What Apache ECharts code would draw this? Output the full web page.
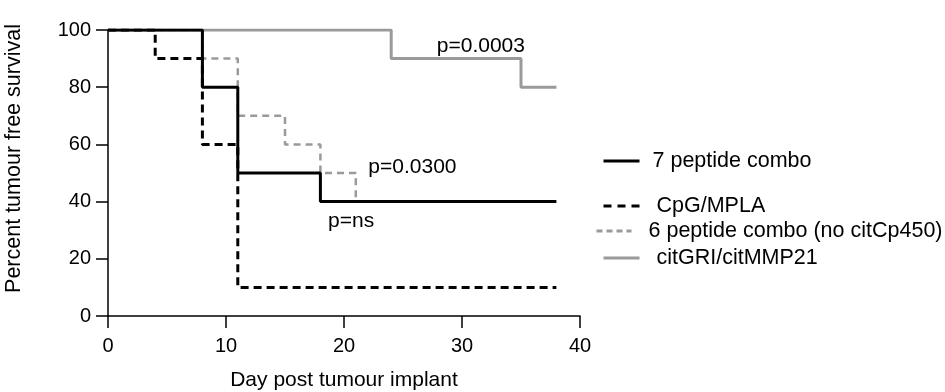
<!DOCTYPE html>
<html lang="en">
<head>
  <meta charset="UTF-8">
  <title>Tumour free survival</title>
</head>
<body style="margin:0; background:#fff;">
<div id="main" style="width:945px; height:392px;"></div>

<script src="https://cdn.jsdelivr.net/npm/echarts@6/dist/echarts.min.js"></script>

<script>
  // Kaplan-Meier steps: [day, percent]
  var sevenPeptide = [[0, 100], [8, 80], [11, 50], [18, 40], [38, 40]];
  var cpgMpla = [[0, 100], [4, 90], [8, 60], [11, 10], [38, 10]];
  var sixPeptide = [[0, 100], [8, 90], [11, 70], [15, 60], [18, 50], [21, 40], [38, 40]];
  var citGri = [[0, 100], [24, 90], [35, 80], [38, 80]];

  var seriesNames = ['7 peptide combo', 'CpG/MPLA', '6 peptide combo (no citCp450)', 'citGRI/citMMP21'];

  // p-value labels: [day, percent, text]
  var pLabels = [[31.6, 94.4, 'p=0.0003'], [25.8, 51.9, 'p=0.0300'], [20.6, 33.1, 'p=ns']];

  var xTicks = [0, 10, 20, 30, 40];
  var yTicks = [0, 20, 40, 60, 80, 100];

  var font = 'Liberation Sans, Arial, sans-serif';
  var chart = echarts.init(document.getElementById('main'));

  // one legend box per series, the original spaces them unevenly
  function legendAt(name, top, left, width, gap, color, dash) {
    return {
      data: [name],
      left: left - 5,
      top: top - 5,
      itemWidth: width,
      itemHeight: 14,
      selectedMode: false,
      itemStyle: { opacity: 0 },
      lineStyle: { color: color, width: 3, type: dash },
      formatter: function (n) { return '{t|' + n + '}'; },
      textStyle: {
        fontFamily: font, fontSize: 21.5, color: '#000',
        rich: { t: { fontFamily: font, fontSize: 21.5, color: '#000', padding: [0, 0, 0, gap] } }
      }
    };
  }

  function stepLine(name, data, color, width, type, z) {
    return {
      name: name,
      type: 'line',
      step: 'end',
      data: data,
      symbol: 'none',
      z: z,
      itemStyle: { color: color },
      lineStyle: { color: color, width: width, type: type },
      emphasis: { disabled: true },
      animation: false
    };
  }

  var option = {
    backgroundColor: '#fff',
    animation: false,
    grid: { left: 108, right: 365, top: 30, bottom: 76, outerBoundsMode: 'none' },
    legend: [
      legendAt(seriesNames[0], 150, 602, 36, 8, '#000', 'solid'),
      legendAt(seriesNames[1], 195, 602, 36, 12, '#000', [8, 6]),
      legendAt(seriesNames[2], 220, 595, 35, 12, '#9a9a9a', [6, 4]),
      legendAt(seriesNames[3], 247, 602, 36, 12, '#9a9a9a', 'solid')
    ],
    xAxis: {
      type: 'value',
      min: 0, max: 40, interval: 10,
      name: 'Day post tumour implant',
      nameLocation: 'middle',
      nameGap: 54,
      nameTextStyle: { fontFamily: font, fontSize: 21, color: '#000' },
      axisLine: { lineStyle: { color: '#000', width: 1.5 } },
      axisTick: { length: 12, lineStyle: { color: '#000', width: 1.5 },
        customValues: xTicks },
      axisLabel: { fontFamily: font, fontSize: 20, color: '#000', margin: 20,
        customValues: xTicks },
      splitLine: { show: false }
    },
    yAxis: {
      type: 'value',
      min: 0, max: 100, interval: 20,
      name: 'Percent tumour free survival',
      nameLocation: 'middle',
      nameGap: 83,
      nameTextStyle: { fontFamily: font, fontSize: 21.5, color: '#000', padding: [0, 0, 0, 29] },
      axisLine: { show: true, lineStyle: { color: '#000', width: 1.5 } },
      axisTick: { show: true, length: 12, lineStyle: { color: '#000', width: 1.5 },
        customValues: yTicks },
      axisLabel: { fontFamily: font, fontSize: 20, color: '#000', margin: 17,
        customValues: yTicks },
      splitLine: { show: false }
    },
    series: [
      stepLine(seriesNames[3], citGri, '#9a9a9a', 3, 'solid', 2),
      stepLine(seriesNames[2], sixPeptide, '#9a9a9a', 2.5, [7, 5], 3),
      stepLine(seriesNames[1], cpgMpla, '#000', 3, [8, 5], 4),
      stepLine(seriesNames[0], sevenPeptide, '#000', 3, 'solid', 5),
      {
        type: 'scatter',
        data: pLabels,
        symbolSize: 0,
        z: 6,
        silent: true,
        itemStyle: { opacity: 1 },
        label: {
          show: true,
          position: 'inside',
          formatter: function (p) { return p.value[2]; },
          fontFamily: font,
          fontSize: 21,
          color: '#000'
        }
      }
    ]
  };

  chart.setOption(option);
</script>
</body>
</html>
